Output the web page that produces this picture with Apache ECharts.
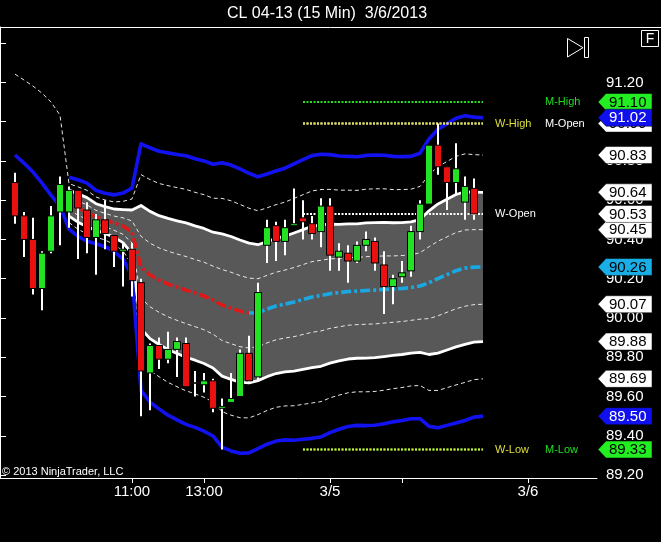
<!DOCTYPE html>
<html>
<head>
<meta charset="utf-8">
<script src="https://cdn.jsdelivr.net/npm/echarts@6.0.0/dist/echarts.min.js"></script>
<style>
html,body{margin:0;padding:0;background:#000;overflow:hidden;}
#chart{width:661px;height:542px;}
</style>
</head>
<body>
<div id="chart"></div>
<script>
const FONT = '"Liberation Sans", Arial, sans-serif';
const titleText = 'CL 04-13 (15 Min)  3/6/2013';
const copyrightText = '\u00A9 2013 NinjaTrader, LLC';

// x axis (bar slots)
const slotCount = 60;
const tickIndex = [13, 21, 35, 43, 57];
const tickLabels = ['11:00', '13:00', '3/5', '', '3/6'];

// y axis
const yMin = 89.185, yMax = 91.482;
const yTicks = [89.2, 89.4, 89.6, 89.8, 90.0, 90.2, 90.4, 90.6, 90.8, 91.0, 91.2, 91.4];
const yLabels = [89.2, 89.4, 89.6, 89.8, 90.0, 90.2, 90.4, 90.6, 90.8, 91.0, 91.2];

// candles
const opens  = [90.69,90.52,90.40,90.15,90.34,90.54,90.54,90.65,90.55,90.41,90.50,90.42,90.34,90.35,90.18,89.72,89.86,89.79,89.84,89.87,89.67,89.66,89.68,89.54,89.57,89.60,89.82,89.70,90.37,90.47,90.39,90.47,90.51,90.48,90.44,90.57,90.31,90.33,90.29,90.37,90.39,90.27,90.16,90.21,90.24,90.44,90.58,90.88,90.77,90.69,90.59,90.66];
const highs  = [90.74,90.54,90.51,90.34,90.57,90.72,90.67,90.65,90.59,90.53,90.60,90.42,90.38,90.38,90.20,89.87,89.90,89.93,89.90,89.90,89.73,89.72,89.69,89.59,89.72,89.84,89.91,90.18,90.50,90.49,90.50,90.66,90.60,90.52,90.61,90.61,90.38,90.37,90.39,90.44,90.41,90.34,90.22,90.29,90.47,90.60,90.88,90.99,90.77,90.89,90.72,90.71];
const lows   = [90.48,90.31,90.12,90.04,90.33,90.37,90.46,90.30,90.33,90.22,90.35,90.26,90.16,90.11,89.50,89.53,89.74,89.77,89.70,89.65,89.60,89.62,89.52,89.33,89.57,89.60,89.67,89.68,90.28,90.29,90.32,90.47,90.40,90.40,90.36,90.24,90.24,90.18,90.28,90.34,90.24,90.02,90.07,90.18,90.21,90.40,90.58,90.73,90.55,90.63,90.50,90.50];
const closes = [90.52,90.40,90.15,90.33,90.52,90.68,90.65,90.56,90.41,90.50,90.43,90.34,90.35,90.19,89.73,89.86,89.79,89.84,89.88,89.65,89.67,89.68,89.54,89.55,89.59,89.82,89.68,90.13,90.46,90.39,90.46,90.48,90.49,90.43,90.57,90.32,90.34,90.29,90.37,90.40,90.28,90.16,90.20,90.23,90.44,90.58,90.88,90.77,90.69,90.76,90.67,90.53];

// VWAP with standard deviation bands (session starts at bar 6, plotted to bar 52)
const sessionStart = 6;
const lastIndex = 52;
const vwap = [90.585,90.560,90.539,90.514,90.499,90.483,90.468,90.438,90.259,90.219,90.193,90.173,90.157,90.142,90.127,90.112,90.091,90.066,90.051,90.035,90.025,90.027,90.045,90.061,90.071,90.081,90.094,90.107,90.114,90.124,90.129,90.135,90.137,90.140,90.142,90.145,90.147,90.150,90.155,90.163,90.180,90.201,90.221,90.241,90.254,90.259,90.260];
const sd   = [0.033,0.036,0.037,0.034,0.034,0.036,0.042,0.056,0.157,0.162,0.164,0.167,0.169,0.171,0.171,0.172,0.173,0.181,0.182,0.181,0.178,0.173,0.172,0.172,0.173,0.176,0.178,0.180,0.180,0.177,0.174,0.172,0.171,0.172,0.172,0.171,0.169,0.168,0.167,0.169,0.183,0.190,0.192,0.194,0.194,0.191,0.190];
const centerSwitch = 26; // red before, cyan after
// previous-session tails (bars 0..5)
const prevUpperDash = [91.242,91.212,91.181,91.145,91.100,91.033];
const prevBlue      = [90.830,90.789,90.743,90.687,90.626,90.570];

// key levels
const levelNames  = ['M-Open','W-High','M-High','W-Open','M-Low','W-Low'];
const levelValues = [90.99, 90.99, 91.10, 90.53, 89.33, 89.33];
const levelColors = ['#ffffff','#dede3a','#22dd22','#ffffff','#22dd22','#dede3a'];
const levelGap    = [62, 12, 62, 12, 62, 12];
const levelFrom = 32, levelTo = 52;

// ---------- build ----------
function band(k) {
  const out = [];
  for (let i = 0; i <= lastIndex; i++) {
    const j = i - sessionStart;
    out.push(j >= 0 ? +(vwap[j] + k * sd[j]).toFixed(4) : '-');
  }
  return out;
}
const up3 = band(3).map((v, i) => i < sessionStart ? prevUpperDash[i] : v);
const lo4 = band(-4).map((v, i) => i < sessionStart ? prevBlue[i] : v);
const fillBase = band(-2);
const fillHeight = band(0).map((v, i) => v === '-' ? '-' : +(4 * sd[i - sessionStart]).toFixed(4));
const centerRed = band(0).map((v, i) => i <= centerSwitch ? v : '-');
const centerCyan = band(0).map((v, i) => i >= centerSwitch ? v : '-');

const cats = [];
for (let i = 0; i < slotCount; i++) cats.push(String(i));

function lineS(data, color, width, type, extra) {
  return Object.assign({
    type: 'line', xAxisIndex: 1, yAxisIndex: 1, data: data, symbol: 'none',
    silent: true, connectNulls: false, z: 2,
    lineStyle: { color: color, width: width, type: type, cap: 'butt', join: 'round' }
  }, extra || {});
}

const series = [];
series.push(lineS(fillBase, '#000', 0, 'solid', { stack: 'fill', z: 1, lineStyle: { opacity: 0 } }));
series.push(lineS(fillHeight, '#000', 0, 'solid', { stack: 'fill', z: 1, lineStyle: { opacity: 0 }, areaStyle: { color: '#585858', opacity: 1 } }));
series.push(lineS(band(1), '#e6e6e6', 1, [4, 3]));
series.push(lineS(band(-1), '#e6e6e6', 1, [4, 3]));
series.push(lineS(up3, '#e6e6e6', 1, [4, 3]));
series.push(lineS(band(-3), '#e6e6e6', 1, [4, 3]));
series.push(lineS(band(2), '#ffffff', 2.8, 'solid'));
series.push(lineS(band(-2), '#ffffff', 2.8, 'solid'));
series.push(lineS(band(4), '#1212f0', 3.6, 'solid'));
series.push(lineS(lo4, '#1212f0', 3.6, 'solid'));
series.push(lineS(centerRed, '#e01818', 3.6, [10, 3, 3, 3]));
series.push(lineS(centerCyan, '#1aa8e2', 3.6, [10, 3, 3, 3]));

levelNames.forEach((nm, k) => {
  const d = [];
  for (let i = 0; i <= levelTo; i++) d.push(i >= levelFrom ? levelValues[k] : '-');
  series.push(lineS(d, levelColors[k], 2, [2, 1.5], {
    z: 3,
    endLabel: {
      show: true, formatter: nm, color: levelColors[k], fontSize: 11,
      fontFamily: FONT, distance: levelGap[k], align: 'left', verticalAlign: 'middle'
    }
  }));
});

// candles
const candleData = opens.map((o, i) => [i, o, closes[i], lows[i], highs[i]]);
series.push({
  type: 'custom', xAxisIndex: 1, yAxisIndex: 1, silent: true, z: 6,
  data: candleData, encode: { x: 0, y: [1, 2, 3, 4] },
  renderItem: function (params, api) {
    const i = api.value(0), o = api.value(1), c = api.value(2), l = api.value(3), h = api.value(4);
    const pO = api.coord([i, o]), pC = api.coord([i, c]), pL = api.coord([i, l]), pH = api.coord([i, h]);
    const x = Math.round(pO[0]);
    const top = Math.min(pO[1], pC[1]), bot = Math.max(pO[1], pC[1]);
    const fill = c > o ? '#22e222' : (c < o ? '#ea1010' : '#ffffff');
    return {
      type: 'group', children: [
        { type: 'line', z2: 1, shape: { x1: x, y1: pH[1], x2: x, y2: pL[1] }, style: { stroke: '#ffffff', lineWidth: 2 } },
        { type: 'rect', z2: 2, shape: { x: x - 3.5, y: top, width: 7, height: Math.max(bot - top, 0.5) }, style: { fill: fill, stroke: '#000000', lineWidth: 1 } }
      ]
    };
  }
});

// price markers on the right axis
const lastJ = lastIndex - sessionStart;
const bandLast = k => vwap[lastJ] + k * sd[lastJ];
const markers = [
  { p: levelValues[1], fill: '#ffffff', tc: '#000000' },
  { p: levelValues[2], fill: '#22ee22', tc: '#000000' },
  { p: bandLast(4), fill: '#1010ee', tc: '#ffffff' },
  { p: bandLast(3), fill: '#ffffff', tc: '#000000' },
  { p: bandLast(2), fill: '#ffffff', tc: '#000000' },
  { p: bandLast(1), fill: '#ffffff', tc: '#000000' },
  { p: levelValues[3], fill: '#ffffff', tc: '#000000' },
  { p: bandLast(0), fill: '#1aaee6', tc: '#000000' },
  { p: bandLast(-1), fill: '#ffffff', tc: '#000000' },
  { p: bandLast(-2), fill: '#ffffff', tc: '#000000' },
  { p: bandLast(-3), fill: '#ffffff', tc: '#000000' },
  { p: bandLast(-4), fill: '#1010ee', tc: '#ffffff' },
  { p: levelValues[4], fill: '#22ee22', tc: '#000000' }
];
series.push({
  type: 'custom', xAxisIndex: 0, yAxisIndex: 0, silent: true, clip: false, z: 10,
  data: markers.map(m => [0, m.p]),
  renderItem: function (params, api) {
    const m = markers[params.dataIndex];
    const y = api.coord([0, api.value(1)])[1];
    const ax = params.coordSys.x + params.coordSys.width;
    const hh = 8.5;
    return {
      type: 'group', children: [
        { type: 'polygon', shape: { points: [[ax + 1, y], [ax + 9, y - hh], [ax + 55, y - hh], [ax + 55, y + hh], [ax + 9, y + hh]] },
          style: { fill: m.fill, stroke: '#000', lineWidth: 0.5 } },
        { type: 'text', style: { text: api.value(1).toFixed(2), x: ax + 12, y: y + 0.5, fill: m.tc,
          font: '15px ' + FONT, textAlign: 'left', textVerticalAlign: 'middle', align: 'left', verticalAlign: 'middle' } }
      ]
    };
  }
});

const chart = echarts.init(document.getElementById('chart'), null, { renderer: 'canvas' });
chart.setOption({
  backgroundColor: '#000000',
  animation: false,
  textStyle: { fontFamily: FONT },
  grid: [
    { left: 0, top: 27, width: 597, height: 451 },
    { left: 10.5, top: 27, width: slotCount * 9, height: 451 }
  ],
  xAxis: [
    { type: 'value', gridIndex: 0, min: 0, max: 1, axisLine: { show: true, lineStyle: { color: '#ffffff', width: 1 } },
      axisTick: { show: false }, axisLabel: { show: false }, splitLine: { show: false } },
    { type: 'category', gridIndex: 1, data: cats, boundaryGap: true,
      axisLine: { show: false },
      axisTick: { show: true, alignWithLabel: true, length: 5, lineStyle: { color: '#ffffff' },
        interval: (idx) => tickIndex.indexOf(idx) >= 0 },
      axisLabel: { show: true, color: '#ffffff', fontSize: 15, fontFamily: FONT, margin: 6,
        interval: (idx) => tickIndex.indexOf(idx) >= 0,
        formatter: (v, idx) => { const k = tickIndex.indexOf(idx); return k >= 0 ? tickLabels[k] : ''; } },
      splitLine: { show: false } }
  ],
  yAxis: [
    { type: 'value', gridIndex: 0, position: 'right', min: yMin, max: yMax,
      axisLine: { show: true, lineStyle: { color: '#ffffff', width: 1 } },
      axisTick: { show: true, length: 6, lineStyle: { color: '#ffffff' }, customValues: yTicks },
      axisLabel: { show: true, color: '#ffffff', fontSize: 15, fontFamily: FONT, margin: 9,
        customValues: yLabels, formatter: v => (+v).toFixed(2) },
      splitLine: { show: false } },
    { type: 'value', gridIndex: 1, min: yMin, max: yMax, show: false, splitLine: { show: false } }
  ],
  graphic: [
    { type: 'text', style: { text: titleText, x: 327, y: 14, fill: '#ffffff', font: '16px ' + FONT, textAlign: 'center', textVerticalAlign: 'middle', align: 'center', verticalAlign: 'middle' } },
    { type: 'line', shape: { x1: 0, y1: 27.5, x2: 661, y2: 27.5 }, style: { stroke: '#ffffff', lineWidth: 1 } },
    { type: 'line', shape: { x1: 0.5, y1: 27, x2: 0.5, y2: 478 }, style: { stroke: '#ffffff', lineWidth: 1 } },
    { type: 'text', style: { text: copyrightText, x: 2, y: 472, fill: '#ffffff', font: '11px ' + FONT, textAlign: 'left', textVerticalAlign: 'middle', align: 'left', verticalAlign: 'middle' } },
    { type: 'rect', shape: { x: 641.5, y: 30.5, width: 17, height: 16 }, style: { fill: 'none', stroke: '#ffffff', lineWidth: 1 } },
    { type: 'text', style: { text: 'F', x: 650, y: 39, fill: '#ffffff', font: '14px ' + FONT, textAlign: 'center', textVerticalAlign: 'middle', align: 'center', verticalAlign: 'middle' } },
    { type: 'polygon', shape: { points: [[567.5, 38.5], [567.5, 57], [583, 47.7]] }, style: { fill: 'none', stroke: '#ffffff', lineWidth: 1 } },
    { type: 'rect', shape: { x: 584.5, y: 37.5, width: 4, height: 20 }, style: { fill: 'none', stroke: '#ffffff', lineWidth: 1 } }
  ],
  series: series
});
</script>
</body>
</html>
